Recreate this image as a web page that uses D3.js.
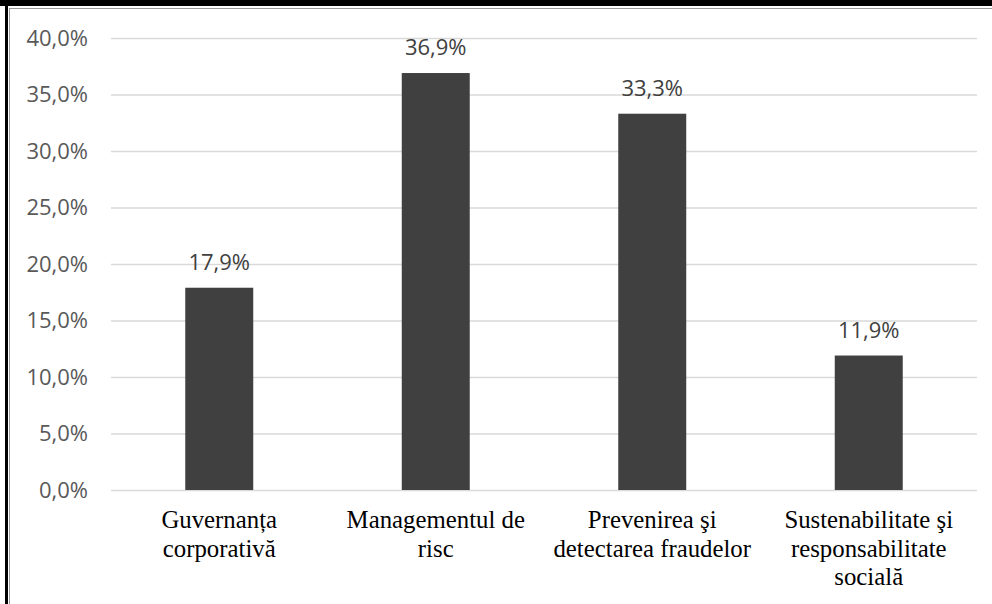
<!DOCTYPE html>
<html><head><meta charset="utf-8">
<script src="https://cdn.jsdelivr.net/npm/d3@7"></script>
<style>html,body{margin:0;padding:0;background:#fff;}svg{display:block;}
.cat{font-family:"Liberation Serif","Times New Roman",Times,"DejaVu Serif",serif;font-size:24.8px;}
.num{font-family:"Open Sans",sans-serif;font-size:22px;}
</style>
</head><body>
<svg id="c" width="992" height="604"></svg>
<script>
const categories = [
  ["Guvernanța", "corporativă"],
  ["Managementul de", "risc"],
  ["Prevenirea şi", "detectarea fraudelor"],
  ["Sustenabilitate şi", "responsabilitate", "socială"]
];
const values = [17.9, 36.9, 33.3, 11.9];
const yTicks = [0, 5, 10, 15, 20, 25, 30, 35, 40];

const svg = d3.select("#c");
const W = 992, H = 604;
const m = {left: 111, right: 977, top: 38, bottom: 490};

svg.append("rect").attr("x",0).attr("y",0).attr("width",W).attr("height",H).attr("fill","#fff");
svg.append("rect").attr("x",0).attr("y",0).attr("width",W).attr("height",6).attr("fill","#000");
svg.append("rect").attr("x",5).attr("y",0).attr("width",3).attr("height",H).attr("fill","#000");
svg.append("line").attr("x1",9).attr("x2",W).attr("y1",8.5).attr("y2",8.5).attr("stroke","#9a9a9a").attr("stroke-width",1);
svg.append("line").attr("x1",9.5).attr("x2",9.5).attr("y1",8).attr("y2",H).attr("stroke","#9a9a9a").attr("stroke-width",1);

const x = d3.scaleBand().domain(d3.range(categories.length)).range([m.left, m.right]).paddingInner(0.686).paddingOuter(0.343);
const y = d3.scaleLinear().domain([0, 40]).range([m.bottom, m.top]);

const fmt = v => v.toFixed(1).replace(".", ",") + "%";

const yAxis = d3.axisLeft(y).tickValues(yTicks).tickSize(-(m.right - m.left)).tickFormat(fmt).tickPadding(23);
const gy = svg.append("g").attr("transform", `translate(${m.left},0)`).call(yAxis);
gy.attr("font-family", null).attr("font-size", null);
gy.select(".domain").remove();
gy.selectAll(".tick line").attr("stroke", "#d9d9d9").attr("stroke-width", 1.5);
gy.selectAll(".tick text").attr("class", "num").attr("fill", "#595959");

svg.append("g").selectAll("rect").data(values).join("rect")
  .attr("x", (d,i) => x(i)).attr("width", x.bandwidth())
  .attr("y", d => y(d)).attr("height", d => y(0) - y(d))
  .attr("fill", "#404040");

svg.append("g").selectAll("text").data(values).join("text")
  .attr("class", "num")
  .attr("x", (d,i) => x(i) + x.bandwidth()/2)
  .attr("y", d => y(d) - 18)
  .attr("text-anchor", "middle")
  .attr("fill", "#404040")
  .text(d => fmt(d));

const gx = svg.append("g");
categories.forEach((lines, i) => {
  const t = gx.append("text")
    .attr("class", "cat")
    .attr("x", x(i) + x.bandwidth()/2)
    .attr("y", 528)
    .attr("text-anchor", "middle")
    .attr("fill", "#000");
  lines.forEach((l, j) => {
    t.append("tspan").attr("x", x(i) + x.bandwidth()/2).attr("y", 528 + j*28.5).text(l);
  });
});
</script>
</body></html>
